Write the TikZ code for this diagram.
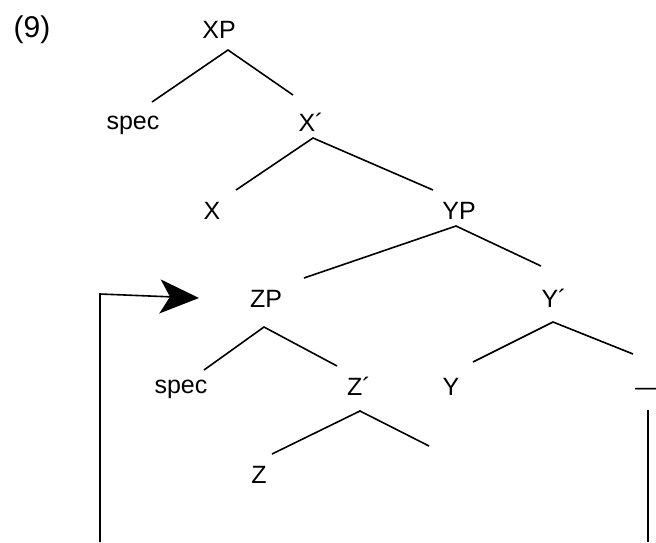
\documentclass[tikz,border=0pt]{standalone}
\usepackage{fontspec}
\setmainfont{Liberation Sans}
\usetikzlibrary{arrows.meta}

\tikzset{
	lab/.style={anchor=base, inner sep=0pt, font=\fontsize{25}{30}\selectfont},
	branch/.style={line width=1.6pt},
}

\begin{document}
\begin{tikzpicture}[x=1pt,y=-1pt]
	\useasboundingbox (0,0) rectangle (656,542);
	% labels
	\node[lab,font=\fontsize{30}{36}\selectfont] (ex) at (32,37) {(9)};
	\node[lab] (XP) at (219,38) {XP};
	\node[lab] (spec1) at (133,129) {spec};
	\node[lab] (Xbar) at (311,131) {X´};
	\node[lab] (X) at (212,219) {X};
	\node[lab] (YP) at (459,219) {YP};
	\node[lab] (ZP) at (266,307) {ZP};
	\node[lab] (Ybar) at (554,307) {Y´};
	\node[lab] (spec2) at (181,393) {spec};
	\node[lab] (Zbar) at (359,395) {Z´};
	\node[lab] (Y) at (451,395) {Y};
	\node[lab,anchor=base west] (gap) at (635,395) {—};
	\node[lab] (Z) at (259,483) {Z};
	%
	% branch ends
	\coordinate (XPa) at (228,50);
	\coordinate (spec1t) at (152,102);
	\coordinate (Xbart) at (293,95);
	\coordinate (Xbara) at (313,138);
	\coordinate (Xt) at (236,190);
	\coordinate (YPt) at (433,190);
	\coordinate (YPa) at (456,226);
	\coordinate (ZPt) at (304,278);
	\coordinate (Ybart) at (541,266);
	\coordinate (ZPa) at (264,327);
	\coordinate (spec2t) at (204,370);
	\coordinate (Zbart) at (337,366);
	\coordinate (Ybara) at (553,322);
	\coordinate (Yt) at (473,362);
	\coordinate (gapt) at (633,354);
	\coordinate (Zbara) at (360,411);
	\coordinate (Zt) at (272,454);
	\coordinate (Zcomp) at (429,446);
	%
	\draw[branch] (spec1t) -- (XPa) -- (Xbart);
	\draw[branch] (Xt) -- (Xbara) -- (YPt);
	\draw[branch] (ZPt) -- (YPa) -- (Ybart);
	\draw[branch] (spec2t) -- (ZPa) -- (Zbart);
	\draw[branch] (Yt) -- (Ybara) -- (gapt);
	\draw[branch] (Zt) -- (Zbara) -- (Zcomp);
	%
	% movement
	\coordinate (footL) at (100,542);
	\coordinate (cornerL) at (100,294);
	\coordinate (ZPin) at (199,298);
	\coordinate (gapb) at (648,410);
	\coordinate (footR) at (648,542);
	\draw[branch,-{Stealth[length=39pt,width=34pt,inset=10pt]}]
	(footL) -- (cornerL) -- (ZPin);
	\draw[branch] (gapb) -- (footR);
\end{tikzpicture}
\end{document}
